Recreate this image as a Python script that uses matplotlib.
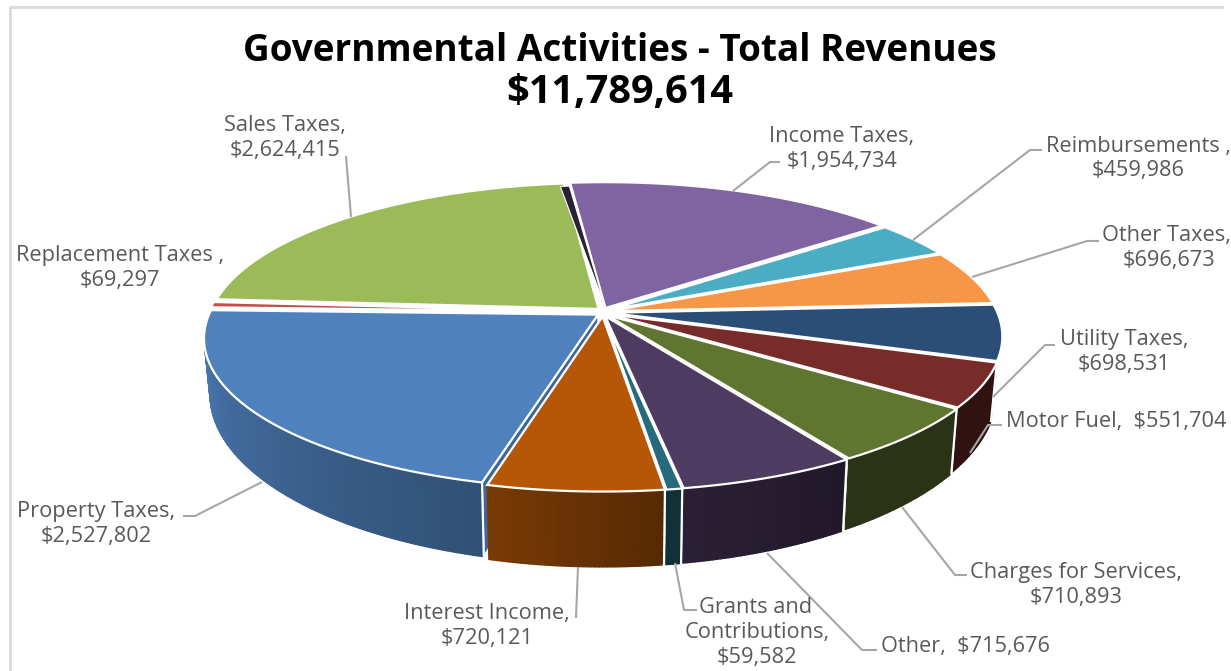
"""Governmental activities revenue, drawn as a tilted 3D pie."""
import numpy as np
import matplotlib
matplotlib.use('Agg')
import matplotlib.pyplot as plt
from matplotlib.colors import to_rgb

names = ['Income Taxes', 'Reimbursements', 'Other Taxes', 'Utility Taxes', 'Motor Fuel',
         'Charges for Services', 'Other', 'Grants and Contributions', 'Interest Income',
         'Property Taxes', 'Replacement Taxes', 'Sales Taxes']
values = [1954734, 459986, 696673, 698531, 551704, 710893, 715676, 59582, 720121,
          2527802, 69297, 2624415]
colors = ['#8064A2', '#4BACC6', '#F79646', '#2C4D75', '#772C2A', '#5F7530', '#4D3B62',
          '#276A7C', '#B65708', '#4F81BD', '#C0504D', '#9BBB59']
# side brightness at the clockwise start and end of each slice (None = side not visible)
side_shade = [None, None, None, None, (0.40, 0.40), (0.44, 0.44), (0.42, 0.55), (0.45, 0.45),
              (0.48, 0.67), (0.62, 0.90), None, None]

title = ['Governmental Activities - Total Revenues', '$11,789,614']

# label text: (x, y, text, ha)
labels = [
    (285, 124, 'Sales Taxes,', 'center'), (285, 149, '$2,624,415', 'center'),
    (842, 135, 'Income Taxes,', 'center'), (842, 160, '$1,954,734', 'center'),
    (1138, 145, 'Reimbursements ,', 'center'), (1138, 169, '$459,986', 'center'),
    (1166, 234, 'Other Taxes,', 'center'), (1169, 259, '$696,673', 'center'),
    (1124, 338, 'Utility Taxes,', 'center'), (1124, 363, '$698,531', 'center'),
    (1006, 420, 'Motor Fuel,  $551,704', 'left'),
    (1076, 571, 'Charges for Services,', 'center'), (1076, 596, '$710,893', 'center'),
    (881, 645, 'Other,  $715,676', 'left'),
    (756, 606, 'Grants and', 'center'), (757, 631, 'Contributions,', 'center'),
    (757, 656, '$59,582', 'center'),
    (487, 612, 'Interest Income,', 'center'), (487, 637, '$720,121', 'center'),
    (96, 510, 'Property Taxes,', 'center'), (96, 535, '$2,527,802', 'center'),
    (120, 254, 'Replacement Taxes ,', 'center'), (120, 279, '$69,297', 'center'),
]
leaders = [
    [(346, 156), (351, 217)],
    [(733, 191), (770, 162), (780, 162)],
    [(913, 240), (1030, 150), (1042, 150)],
    [(972, 277), (1087, 241), (1099, 241)],
    [(993, 397), (1045, 345), (1055, 345)],
    [(970, 453), (988, 425), (1002, 425)],
    [(902, 507), (955, 575), (967, 575)],
    [(767, 553), (862, 650), (877, 650)],
    [(675, 563), (684, 610), (697, 610)],
    [(578, 567), (576, 618)],
    [(262, 482), (195, 516), (183, 516)],
]

CX, CY = 603, 312      # where the slices meet on screen
A, K, P = 388, 146.5, 0.155   # width, depth, perspective of the tilted disc
START = -6.0           # clockwise from the back, degrees
EXPLODE_X, EXPLODE_Y = 0.016, 0.03
DROP, BOT_X, BOT_Y = 52, 0.985, 1.13   # how the lower rim maps from the upper
WALL_END = 258         # the wall turns out of sight past here


def top_xy(u, v):
    d = 1 - P * v
    return CX + A * u / d, CY + K * v / d


def bot_xy(u, v):
    x, y = top_xy(u, v)
    return CX + BOT_X * (x - CX), CY + DROP + BOT_Y * (y - CY)


def warp(a):
    # source chart's camera is slightly turned, right half reads about 2 degrees early
    return a - 2.2 * np.sqrt(np.maximum(0, np.sin(np.radians(a - START))))


def ring(a0, a1, mid, func, r=1.0):
    """Points on an arc between two angles, with the slice pulled out along its middle."""
    th = np.radians(warp(np.linspace(a0, a1, max(int(abs(a1 - a0)) * 2, 2) + 1)))
    ox, oy = EXPLODE_X * np.sin(np.radians(mid)), -EXPLODE_Y * np.cos(np.radians(mid))
    return np.array([func(r * np.sin(t) + ox, -r * np.cos(t) + oy) for t in th])


def shade(color, f):
    return tuple(c * f for c in to_rgb(color))


spans = np.array(values) / sum(values) * 360
starts = START + np.concatenate([[0], np.cumsum(spans)[:-1]])
mids = starts + spans / 2

fig = plt.figure(figsize=(12.31, 6.71), dpi=100)
ax = fig.add_axes([0, 0, 1, 1])
ax.set_xlim(0, 1231)
ax.set_ylim(671, 0)
ax.axis('off')
plt.rcParams['font.family'] = ['Open Sans', 'DejaVu Sans']

# frame, only top and left survive in the source
ax.plot([10, 10, 1222], [671, 7, 7], color='#D9D9D9', lw=2, zorder=1)

# back to front so the nearer slices overlap the others
order = np.argsort(-np.cos(np.radians(mids)))
for i in order:
    a0, a1, mid, col = starts[i], starts[i] + spans[i], mids[i], colors[i]
    z = 2 + list(order).index(i)
    if side_shade[i] is not None:
        # radial cut face seen through the gap to the next slice
        apex_t = ring(a0, a0, mid, top_xy, r=0.0)[0]
        apex_b = ring(a0, a0, mid, bot_xy, r=0.0)[0]
        rim_t = ring(a0, a0, mid, top_xy)[0]
        rim_b = ring(a0, a0, mid, bot_xy)[0]
        ax.fill(*zip(apex_t, rim_t, rim_b, apex_b), color=shade(col, 0.8), ec='white', lw=1.2, zorder=z)
        # outer wall in thin strips for the gradient
        wall_a1 = min(a1, WALL_END)
        top = ring(a0, wall_a1, mid, top_xy)
        bot = ring(a0, wall_a1, mid, bot_xy)
        f0, f1 = side_shade[i]
        n = len(top) - 1
        for k in range(n):
            f = f0 + (f1 - f0) * k / n
            q = np.array([top[k], top[k + 1], bot[k + 1], bot[k]])
            ax.fill(q[:, 0], q[:, 1], color=shade(col, f), ec=shade(col, f), lw=1.0, zorder=z)
        ax.plot(*np.vstack([top[0], bot[0]]).T, color='white', lw=1.6, zorder=z)
    arc = ring(a0, a1, mid, top_xy)
    apex = ring(a0, a0, mid, top_xy, r=0.0)
    poly = np.vstack([apex, arc])
    ax.fill(poly[:, 0], poly[:, 1], color=col, ec='white', lw=1.6, zorder=z)

# dark sliver: the cut face of the first slice, showing at the back
sl = np.vstack([ring(starts[0], starts[0], mids[0], top_xy, r=0.0),
                ring(starts[0] - 1.9, starts[0] - 0.3, mids[0], top_xy, r=0.97)])
ax.fill(sl[:, 0], sl[:, 1], color=shade(colors[0], 0.33), ec='white', lw=0.8, zorder=20)

for pts in leaders:
    xs, ys = zip(*pts)
    ax.plot(xs, ys, color='#A6A6A6', lw=1.5, zorder=30, solid_capstyle='butt')

for x, y, s, ha in labels:
    ax.text(x, y + 1.5, s, ha=ha, va='center', fontsize=15.7, color='#595959', zorder=31)

ax.text(620, 51, title[0], ha='center', va='center', fontsize=26.6, fontweight='bold', color='black')
ax.text(620, 93, title[1], ha='center', va='center', fontsize=28.6, fontweight='bold', color='black')

fig.savefig('out.png', dpi=100)
